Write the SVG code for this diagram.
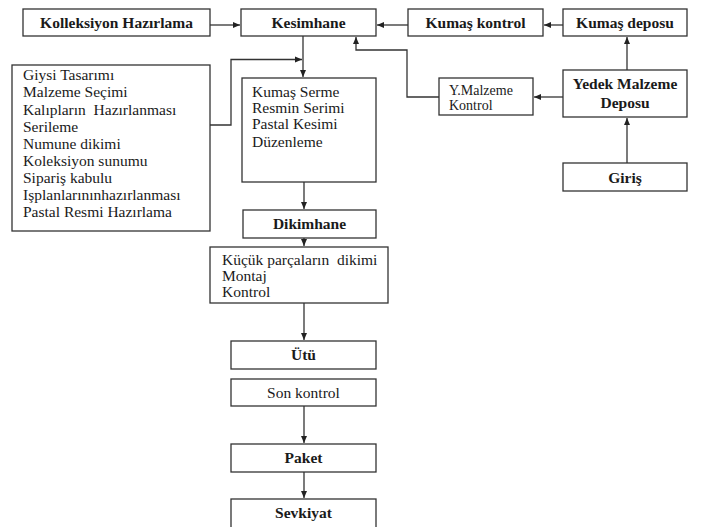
<svg xmlns="http://www.w3.org/2000/svg" width="701" height="527" viewBox="0 0 701 527">
<style>
.box{fill:#fff;stroke:#333;stroke-width:1.3}
.b{font-family:"Liberation Serif","Times New Roman",serif;font-weight:bold;font-size:15.5px;fill:#1a1a1a;text-anchor:middle}
.t{font-family:"Liberation Serif","Times New Roman",serif;font-size:15.5px;fill:#1a1a1a;white-space:pre}
.c{fill:none;stroke:#333;stroke-width:1.3}
</style>
<defs>
<marker id="ah" markerUnits="userSpaceOnUse" markerWidth="8" markerHeight="8" refX="7" refY="4" orient="auto">
<path d="M0,1 L7,4 L0,7 Z" fill="#222"/>
</marker>
</defs>
<rect width="701" height="527" fill="#fff"/>
<g id="connectors">
<path class="c" d="M210,25 H240" marker-end="url(#ah)"/>
<path class="c" d="M408,25 H377" marker-end="url(#ah)"/>
<path class="c" d="M563,25 H544" marker-end="url(#ah)"/>
<path class="c" d="M627,70 V37" marker-end="url(#ah)"/>
<path class="c" d="M627,163 V118" marker-end="url(#ah)"/>
<path class="c" d="M563,97 H534" marker-end="url(#ah)"/>
<path class="c" d="M439,97 H407 V50 H356 V37" marker-end="url(#ah)"/>
<path class="c" d="M303,36 V77" marker-end="url(#ah)"/>
<path class="c" d="M210,125 H231 V59.5 H302" marker-end="url(#ah)"/>
<path class="c" d="M304,182 V209" marker-end="url(#ah)"/>
<path class="c" d="M304,238 V246" marker-end="url(#ah)"/>
<path class="c" d="M304,303 V340" marker-end="url(#ah)"/>
<path class="c" d="M304,406 V443" marker-end="url(#ah)"/>
<path class="c" d="M304,472 V498" marker-end="url(#ah)"/>
</g>
<g id="kolleksiyon"><rect class="box" x="23" y="9" width="187" height="27"/><text class="b" x="116.5" y="28">Kolleksiyon Hazırlama</text></g>
<g id="kesimhane"><rect class="box" x="241" y="9" width="135" height="27"/><text class="b" x="308.5" y="28">Kesimhane</text></g>
<g id="kumas-kontrol"><rect class="box" x="408" y="9" width="135" height="27"/><text class="b" x="475.5" y="28">Kumaş kontrol</text></g>
<g id="kumas-deposu"><rect class="box" x="563" y="9" width="124" height="27"/><text class="b" x="625" y="28">Kumaş deposu</text></g>
<g id="yedek"><rect class="box" x="563" y="70" width="124" height="47"/><text class="b" x="625" y="89">Yedek Malzeme</text><text class="b" x="625" y="108">Deposu</text></g>
<g id="y-malzeme"><rect class="box" x="439" y="78" width="94" height="37"/><text class="t" x="449" y="95" style="font-size:14px">Y.Malzeme</text><text class="t" x="449" y="110" style="font-size:14px">Kontrol</text></g>
<g id="giris"><rect class="box" x="563" y="163" width="124" height="28"/><text class="b" x="625" y="183">Giriş</text></g>
<g id="giysi"><rect class="box" x="12" y="65" width="198" height="166"/>
<text class="t" xml:space="preserve"><tspan x="23" y="80">Giysi Tasarımı</tspan><tspan x="23" y="97">Malzeme Seçimi</tspan><tspan x="23" y="115">Kalıpların  Hazırlanması</tspan><tspan x="23" y="132">Serileme</tspan><tspan x="23" y="149">Numune dikimi</tspan><tspan x="23" y="166">Koleksiyon sunumu</tspan><tspan x="23" y="183">Sipariş kabulu</tspan><tspan x="23" y="200">Işplanlarınınhazırlanması</tspan><tspan x="23" y="217">Pastal Resmi Hazırlama</tspan></text></g>
<g id="kumas-serme"><rect class="box" x="242" y="78" width="134" height="104"/>
<text class="t"><tspan x="252" y="97">Kumaş Serme</tspan><tspan x="252" y="113">Resmin Serimi</tspan><tspan x="252" y="129">Pastal Kesimi</tspan><tspan x="252" y="147">Düzenleme</tspan></text></g>
<g id="dikimhane"><rect class="box" x="243" y="210" width="133" height="28"/><text class="b" x="309.5" y="229">Dikimhane</text></g>
<g id="kucuk"><rect class="box" x="210" y="247" width="178" height="56"/>
<text class="t" xml:space="preserve"><tspan x="222" y="265">Küçük parçaların  dikimi</tspan><tspan x="222" y="281">Montaj</tspan><tspan x="222" y="297">Kontrol</tspan></text></g>
<g id="utu"><rect class="box" x="231" y="341" width="145" height="28"/><text class="b" x="303.5" y="360">Ütü</text></g>
<g id="son-kontrol"><rect class="box" x="231" y="379" width="145" height="27"/><text class="t" x="303.5" y="398" text-anchor="middle">Son kontrol</text></g>
<g id="paket"><rect class="box" x="231" y="444" width="145" height="28"/><text class="b" x="303.5" y="463">Paket</text></g>
<g id="sevkiyat"><rect class="box" x="231" y="499" width="145" height="40"/><text class="b" x="303.5" y="518">Sevkiyat</text></g>
</svg>
